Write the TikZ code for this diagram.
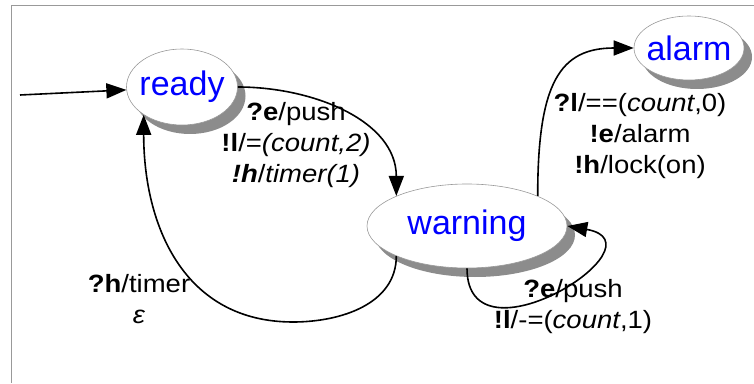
\documentclass[tikz,border=0pt]{standalone}
\usepackage{fontspec}
\setmainfont{Liberation Sans}
\newfontfamily\lblfont[FakeStretch=1.1]{Liberation Sans}
\usepackage{xcolor}
\usetikzlibrary{arrows.meta,shapes.geometric,shadows}

\tikzset{
  state/.style={ellipse, draw=black!40, line width=0.6pt, fill=white, inner sep=0pt,
    drop shadow={shadow xshift=8pt, shadow yshift=-9pt, fill=black!45, opacity=1}},
  statetext/.style={text=blue, font=\fontsize{34}{40}\selectfont, inner sep=0pt},
  trans/.style={line width=1.6pt, -{Triangle[length=20pt,width=15pt]}},
  lbl/.style={align=center, font=\lblfont\fontsize{25}{31}\selectfont, inner sep=0pt},
}

\begin{document}
\begin{tikzpicture}[x=1pt,y=1pt]
        \useasboundingbox (0,0) rectangle (754,383);
        \draw[black!40, line width=1pt] (754,377) -- (11,377) -- (11,0);

        \node[state, minimum width=111pt, minimum height=76pt, label={[statetext]center:ready}] (ready) at (182,296) {};
        \node[state, minimum width=110pt, minimum height=64pt, label={[statetext]center:alarm}] (alarm) at (689,335) {};
        \node[state, minimum width=200pt, minimum height=84pt, label={[statetext]center:warning}] (warning) at (467,157) {};

        \coordinate (start) at (20,288);
        \coordinate (dip) at (293,61);

        \draw[trans] (start) -- (ready.183);
        \draw[trans] (ready.east) to[out=0,in=90] (warning.157);
        \draw[trans] (warning.23) .. controls +(0,113) and +(-74,0) .. (alarm.west);
        \draw[trans] (warning.203) to[out=-90,in=0] (dip) to[out=180,in=-90,looseness=1.1] (ready.216);
        \draw[trans] (warning.south) to[out=-90,in=-10,looseness=2.4] (warning.east);

        \node[lbl] (pushlbl) at (296,238) {\textbf{?e}/push\\\textbf{!l}/=\textit{(count,2)}\\\textbf{\textit{!h}}/\textit{timer(1)}};
        \node[lbl] (alarmlbl) at (640,247) {\textbf{?l}/==(\textit{count},0)\\\textbf{!e}/alarm\\\textbf{!h}/lock(on)};
        \node[lbl] (looplbl) at (573,76) {\textbf{?e}/push\\\textbf{!l}/-=(\textit{count},1)};
        \node[lbl] (timerlbl) at (139,84) {\textbf{?h}/timer\\\textit{ε}};
    \end{tikzpicture}
\end{document}
